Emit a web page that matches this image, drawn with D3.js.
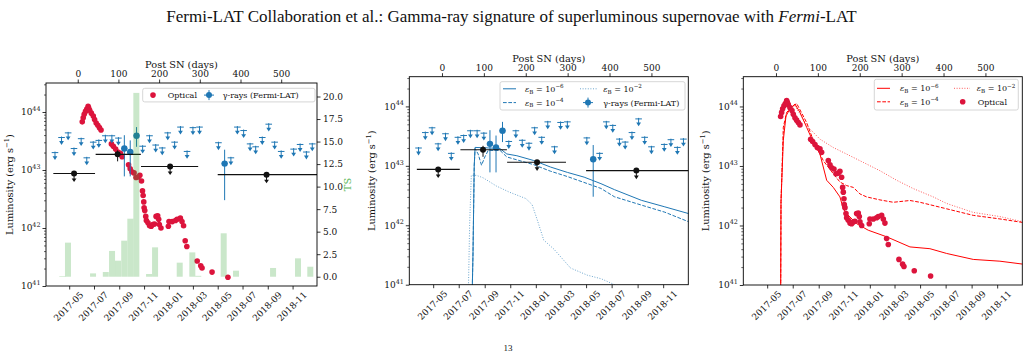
<!DOCTYPE html>
<html><head><meta charset="utf-8">
<script src="https://cdn.jsdelivr.net/npm/d3@7"></script>
<style>
body{margin:0;background:#fff}
svg{display:block}
text{font-family:"DejaVu Serif",serif;fill:#111}
</style>
</head><body>
<svg id="c" width="1030" height="352"></svg>
<script>
// ---------------- DATA ----------------
const title = "Fermi-LAT Collaboration et al.: Gamma-ray signature of superluminous supernovae with ";
const titleItalic = "Fermi";
const titleEnd = "-LAT";
const pageNumber = "13";

const dayZero = Date.UTC(2017, 4, 22);          // Post SN day 0
const dayTicks = [0, 100, 200, 300, 400, 500];
const dateTicks = ["2017-05-01","2017-07-01","2017-09-01","2017-11-01","2018-01-01",
                   "2018-03-01","2018-05-01","2018-07-01","2018-09-01","2018-11-01"];
const tsTicks = [0, 2.5, 5, 7.5, 10, 12.5, 15, 17.5, 20];

// Optical light curve (days, log10 L)
const optDays = [11.1,13.5,15.9,19.1,22.3,25.5,27.0,29.4,33.4,38.2,41.4,45.3,49.3,53.3,57.3,
  82.7,87.5,93.1,98.6,105,109,124.9,128.9,132.9,138.4,143.2,148.8,152.7,156.7,159.1,160.7,
  162.3,163.1,164.7,167.1,168.7,172.6,176.6,180.6,184.6,188.5,192.5,196.5,198.9,200.5,204.5,
  222.7,224.3,232.3,240.2,244.2,252.2,256.2,260.1,264.1,268.1,293.6,302.3,305.5,330.1,369.1];
const optLogL = [43.83,43.90,43.96,44.01,44.05,44.10,44.07,44.03,43.98,43.93,43.87,43.81,43.77,43.73,43.69,
  43.45,43.41,43.36,43.31,43.29,43.23,43.09,43.02,42.97,42.95,42.87,42.88,42.91,42.81,42.64,42.56,
  42.45,42.35,42.30,42.20,42.13,42.09,42.04,42.03,42.06,42.07,42.20,42.21,42.15,42.06,42.00,
  42.03,42.11,42.11,42.13,42.15,42.17,42.11,42.04,41.78,41.68,41.43,41.35,41.31,41.24,41.15];

// Fermi-LAT upper limits (days, log10 L)
const ulDays = [-55.9,-39.8,-23.6,-9.2,8.4,22.2,38.1,51.8,67.9,83.9,100,159.5,176.4,191.6,207.7,
  221.2,238.1,252.5,268.7,283.1,299.3,345.8,376.4,392.3,407.7,423.6,437.3,453.5,469.4,483.9,
  500,530.6,546.5,561.9,576.4];
const ulLogL = [43.30,43.56,43.64,43.37,43.54,43.21,43.48,43.51,43.59,43.59,43.55,43.41,43.59,43.43,43.38,
  43.64,43.48,43.74,43.32,43.73,43.74,43.47,43.21,43.74,43.68,43.45,43.40,43.56,43.79,43.48,
  43.32,43.36,43.44,43.31,43.45];

// Fermi-LAT detections (days, log10 L, lower, upper)
const detDays = [114.5, 129, 144.5, 361];
const detLogL = [43.37, 43.31, 43.59, 43.11];
const detLo   = [42.89, 42.89, 43.40, 42.48];
const detHi   = [43.60, 43.51, 43.74, 43.35];

// Long-time-bin limits (black): centre day, log10 L, bin start, bin end
const binDays  = [-9, 98, 227, 464];
const binLogL  = [42.94, 43.27, 43.06, 42.92];
const binStart = [-60, 44, 155.5, 344];
const binEnd   = [42.5, 155, 296, 620];
const binIsUL  = [true, false, true, true];

// TS histogram
const tsDays = [-38,-24,37.6,69,84.3,99,114.2,129.2,144,175.2,190,250.6,281.6,296.3,358.7,389,480,541.3,571.5];
const tsValues = [0.07,3.78,0.37,0.52,2.86,1.78,4.0,6.44,20.4,0.3,3.26,1.56,2.7,0.1,4.82,0.67,0.97,2.04,1.11];
const tsBinWidth = 14.7;

// Gamma-ray models (days, log10 L)
const gB6Days = [71,74,77,79,114.5,138.6,154.7,178.8,218.8,259,299.3,339.3,379.5,411.6,475.9,532,592];
const gB6LogL = [40.5,41.5,43.0,43.31,43.30,43.29,43.20,43.17,43.09,42.98,42.89,42.81,42.70,42.60,42.42,42.31,42.19];
const gB4Days = [71,74,77,79,86.3,94.4,102.4,110.4,138.6,154.7,218.8,259,299.3,379.5,411.6,475.9,532,592];
const gB4LogL = [40.5,41.5,43.0,43.29,43.20,43.01,43.15,43.26,43.26,43.15,43.02,42.91,42.82,42.62,42.48,42.34,42.22,42.05];
const gB2Days = [62,66,70,82,98,130,160,200,215,227,243,267,307,347,380,412,430];
const gB2LogL = [40.5,42.0,42.84,42.84,42.80,42.66,42.56,42.45,42.35,42.1,41.75,41.6,41.28,41.16,41.1,41.0,40.9];

// Optical models (days, log10 L)
const oB6Days = [11,12,17.5,23.9,33.4,45.3,57.3,73.2,89.1,105,121,136.8,152.7,160.7,168.7,192.6,220.4,264.2,319.8,367.5,407.4,470.9,534.6,590];
const oB6LogL = [40.5,42.4,43.43,43.84,43.96,44.04,43.90,43.65,43.40,43.20,42.76,42.64,42.48,42.28,42.20,42.03,41.92,41.81,41.64,41.61,41.53,41.43,41.40,41.35];
const oB4Days = [11,12,17.5,25.5,37.5,49.4,73.2,89.1,112.9,136.8,152.7,168.7,184.6,200.5,216.5,248.2,280,319.8,343.7,407.4,470.9,534.6,590];
const oB4LogL = [40.5,42.4,43.65,43.90,43.99,44.05,43.73,43.43,43.09,42.87,42.73,42.67,42.64,42.53,42.48,42.43,42.39,42.42,42.39,42.28,42.17,42.11,42.05];
const oB2Days = [11,12,18,25,45.3,77.1,105,136.8,168.7,208.4,248.2,288,327.7,375.4,407.4,470.9,534.6,590];
const oB2LogL = [40.5,42.4,43.6,43.9,44.01,43.65,43.45,43.31,43.20,43.06,42.92,42.76,42.62,42.48,42.37,42.22,42.15,42.06];

// ---------------- STYLE / LAYOUT ----------------
const RED = "#dc143c", BLUE = "#1f77b4", LRED = "#ff0000", GREEN = "#2ca02c";
const XDOM = [-78, 588];
const YDOM = [1e41, Math.pow(10, 44.5)];
const TICKF = 9, LABF = 9.8, LEGF = 8;

const svg = d3.select("#c");
const toDate = d => new Date(dayZero + d * 864e5);
const L10 = v => Math.pow(10, v);

// title
const tt = svg.append("text").attr("x", 511.5).attr("y", 22).attr("text-anchor", "middle")
  .style("font-family", "'Liberation Serif','Times New Roman',serif").style("font-size", "17px");
tt.append("tspan").text(title);
tt.append("tspan").attr("font-style", "italic").text(titleItalic);
tt.append("tspan").text(titleEnd);
svg.append("text").attr("x", 508).attr("y", 350.5).attr("text-anchor", "middle")
  .style("font-family", "'Liberation Serif',serif").style("font-size", "9px").text(pageNumber);

function makePanel(id, box) {
  const xd = d3.scaleLinear().domain(XDOM).range([box.L, box.R]);
  const xt = d3.scaleUtc().domain(XDOM.map(toDate)).range([box.L, box.R]);
  const y = d3.scaleLog().domain(YDOM).range([box.B, box.T]);
  const g = svg.append("g");
  svg.append("clipPath").attr("id", "clip" + id).append("rect")
    .attr("x", box.L).attr("y", box.T).attr("width", box.R - box.L).attr("height", box.B - box.T);
  const plot = g.append("g").attr("clip-path", `url(#clip${id})`);
  return {id, box, xd, xt, y, g, plot};
}

function styleAxis(sel) {
  sel.select(".domain").remove();
  sel.selectAll(".tick line").attr("stroke", "#000").attr("stroke-width", 0.8);
  sel.selectAll("text").style("font-family", "'DejaVu Serif',serif").style("font-size", TICKF + "px").attr("fill", "#111");
}

function drawAxes(p) {
  const {box, xd, xt, y, g} = p;
  const minors = [];
  for (let e = 41; e <= 44; e++) for (let k = 2; k <= 9; k++) { const v = k * Math.pow(10, e); if (v <= YDOM[1]) minors.push(v); }
  g.append("g").attr("transform", `translate(${box.L},0)`)
    .call(d3.axisLeft(y).tickValues(minors).tickSize(2).tickFormat("")).call(styleAxis)
    .selectAll(".tick line").attr("stroke-width", 0.6);
  const majors = [1e41, 1e42, 1e43, 1e44];
  g.append("g").attr("transform", `translate(${box.L},0)`)
    .call(d3.axisLeft(y).tickValues(majors).tickSize(3.5).tickFormat("")).call(styleAxis);
  majors.forEach(v => {
    const t = g.append("text").attr("x", box.L - 5.5).attr("y", y(v) + 3.3).attr("text-anchor", "end")
      .style("font-size", TICKF + "px");
    t.append("tspan").text("10");
    t.append("tspan").attr("dy", -4.3).style("font-size", "6.4px").text(Math.round(Math.log10(v)));
  });
  g.append("g").attr("transform", `translate(0,${box.T})`)
    .call(d3.axisTop(xd).tickValues(dayTicks).tickSize(3.5).tickPadding(2.5)).call(styleAxis);
  g.append("text").attr("x", (box.L + box.R) / 2).attr("y", box.T - 15).attr("text-anchor", "middle")
    .style("font-size", LABF + "px").text("Post SN (days)");
  const bot = g.append("g").attr("transform", `translate(0,${box.B})`)
    .call(d3.axisBottom(xt).tickValues(dateTicks.map(s => new Date(s + "T00:00:00Z")))
      .tickFormat(d3.utcFormat("%Y-%m")).tickSize(3.5)).call(styleAxis);
  bot.selectAll("text").attr("y", 0).attr("dy", null).attr("dominant-baseline", "central")
    .attr("text-anchor", "middle").attr("transform", "translate(-1,20.5) rotate(-45)");
  g.append("rect").attr("x", box.L).attr("y", box.T).attr("width", box.R - box.L).attr("height", box.B - box.T)
    .attr("fill", "none").attr("stroke", "#000").attr("stroke-width", 0.9);
  const yl = g.append("text").attr("transform", `translate(${box.ylx},${(box.T + box.B) / 2}) rotate(-90)`)
    .attr("text-anchor", "middle").style("font-size", LABF + "px");
  yl.append("tspan").text("Luminosity (erg s");
  yl.append("tspan").attr("dy", -4).style("font-size", "6.8px").text("−1");
  yl.append("tspan").attr("dy", 4).text(")");
}

function drawOptical(p) {
  p.plot.append("g").selectAll("circle").data(optDays).join("circle")
    .attr("cx", d => p.xd(d)).attr("cy", (d, i) => p.y(L10(optLogL[i]))).attr("r", 2.8).attr("fill", RED);
}

function ulMarker(sel, color) {
  sel.append("line").attr("x1", -3.3).attr("x2", 3.3).attr("y1", 0).attr("y2", 0);
  sel.append("line").attr("x1", 0).attr("x2", 0).attr("y1", -1).attr("y2", 5);
  sel.append("path").attr("d", "M-2.4,3.6L2.4,3.6L0,7.4Z").attr("stroke", "none").attr("fill", color);
}

function drawGamma(p) {
  const gu = p.plot.append("g").attr("stroke", BLUE).attr("stroke-width", 1);
  gu.selectAll("g").data(ulDays).join("g")
    .attr("transform", (d, i) => `translate(${p.xd(d)},${p.y(L10(ulLogL[i]))})`)
    .each(function () { ulMarker(d3.select(this), BLUE); });
  const gd = p.plot.append("g").selectAll("g").data(detDays).join("g");
  gd.append("line").attr("x1", d => p.xd(d)).attr("x2", d => p.xd(d))
    .attr("y1", (d, i) => p.y(L10(detLo[i]))).attr("y2", (d, i) => p.y(L10(detHi[i])))
    .attr("stroke", BLUE).attr("stroke-width", 1);
  gd.append("line").attr("x1", d => p.xd(d - 7.3)).attr("x2", d => p.xd(d + 7.3))
    .attr("y1", (d, i) => p.y(L10(detLogL[i]))).attr("y2", (d, i) => p.y(L10(detLogL[i])))
    .attr("stroke", BLUE).attr("stroke-width", 1);
  gd.append("circle").attr("cx", d => p.xd(d)).attr("cy", (d, i) => p.y(L10(detLogL[i]))).attr("r", 3.2).attr("fill", BLUE);
}

function drawBins(p) {
  const gb = p.plot.append("g").selectAll("g").data(binDays).join("g");
  gb.append("line").attr("x1", (d, i) => p.xd(binStart[i])).attr("x2", (d, i) => p.xd(binEnd[i]))
    .attr("y1", (d, i) => p.y(L10(binLogL[i]))).attr("y2", (d, i) => p.y(L10(binLogL[i])))
    .attr("stroke", "#111").attr("stroke-width", 1.1);
  gb.each(function (d, i) {
    const s = d3.select(this), cx = p.xd(d), cy = p.y(L10(binLogL[i]));
    if (binIsUL[i]) {
      s.append("line").attr("x1", cx).attr("x2", cx).attr("y1", cy).attr("y2", cy + 6).attr("stroke", "#111").attr("stroke-width", 1);
      s.append("path").attr("d", `M${cx - 2.4},${cy + 5}L${cx + 2.4},${cy + 5}L${cx},${cy + 8.6}Z`).attr("fill", "#111");
    } else {
      s.append("line").attr("x1", cx).attr("x2", cx).attr("y1", cy - 4).attr("y2", cy + 7).attr("stroke", "#111").attr("stroke-width", 1);
    }
    s.append("circle").attr("cx", cx).attr("cy", cy).attr("r", 3).attr("fill", "#111");
  });
}

function drawModel(p, days, logl, color, style) {
  const line = d3.line().x((d, i) => p.xd(d)).y((d, i) => p.y(L10(logl[i])));
  const path = p.plot.append("path").attr("d", line(days)).attr("fill", "none").attr("stroke", color).attr("stroke-width", 1);
  if (style === "dashed") path.attr("stroke-dasharray", "3.7,1.6");
  if (style === "dotted") path.attr("stroke-dasharray", "1,1.6").attr("stroke-opacity", 0.65);
}

function legendBox(g, x, y, w, h) {
  g.append("rect").attr("x", x).attr("y", y).attr("width", w).attr("height", h).attr("rx", 2)
    .attr("fill", "#fff").attr("fill-opacity", 0.85).attr("stroke", "#cccccc").attr("stroke-width", 0.8);
}
function legText(g, x, y, txt) {
  return g.append("text").attr("x", x).attr("y", y + 2.9).style("font-size", LEGF + "px").text(txt);
}
function epsText(g, x, y, ex) {
  const t = g.append("text").attr("x", x).attr("y", y + 2.9).style("font-size", LEGF + "px");
  t.append("tspan").attr("font-style", "italic").text("ε");
  t.append("tspan").attr("dy", 1.8).style("font-size", "5.6px").text("B");
  t.append("tspan").attr("dy", -1.8).text(" = 10");
  t.append("tspan").attr("dy", -3.6).style("font-size", "5.6px").text(ex);
}
function legGamma(g, cx, cy) {
  g.append("line").attr("x1", cx - 5).attr("x2", cx + 5).attr("y1", cy).attr("y2", cy).attr("stroke", BLUE);
  g.append("line").attr("x1", cx).attr("x2", cx).attr("y1", cy - 5).attr("y2", cy + 5).attr("stroke", BLUE);
  g.append("circle").attr("cx", cx).attr("cy", cy).attr("r", 3).attr("fill", BLUE);
}
function legLine(g, x1, x2, y, color, style) {
  const l = g.append("line").attr("x1", x1).attr("x2", x2).attr("y1", y).attr("y2", y).attr("stroke", color).attr("stroke-width", 1);
  if (style === "dashed") l.attr("stroke-dasharray", "3.7,1.6");
  if (style === "dotted") l.attr("stroke-dasharray", "1,1.6").attr("stroke-opacity", 0.65);
}

// ---------------- PANEL 1 ----------------
const p1 = makePanel(1, {L: 46, R: 317, T: 83, B: 286, ylx: 13});
drawOptical(p1);
drawGamma(p1);
drawBins(p1);
const yTS = d3.scaleLinear().domain([-1.03, 21.5]).range([p1.box.B, p1.box.T]);
p1.plot.append("g").selectAll("rect").data(tsDays).join("rect")
  .attr("x", d => p1.xd(d - tsBinWidth / 2)).attr("width", d => p1.xd(d + tsBinWidth / 2) - p1.xd(d - tsBinWidth / 2))
  .attr("y", (d, i) => yTS(tsValues[i])).attr("height", (d, i) => yTS(0) - yTS(tsValues[i]))
  .attr("fill", GREEN).attr("fill-opacity", 0.25);
p1.g.append("g").attr("transform", `translate(${p1.box.R},0)`)
  .call(d3.axisRight(yTS).tickValues(tsTicks).tickFormat(d3.format(".1f")).tickSize(3.5).tickPadding(2.5)).call(styleAxis);
p1.g.append("text").attr("transform", `translate(351,${(p1.box.T + p1.box.B) / 2}) rotate(-90)`).attr("text-anchor", "middle")
  .style("font-size", LABF + "px").style("fill", "#5cb85c").text("TS");
drawAxes(p1);
{
  const lg = p1.g.append("g");
  legendBox(lg, 142.7, 88.3, 172.3, 13.6);
  lg.append("circle").attr("cx", 153).attr("cy", 95.1).attr("r", 2.8).attr("fill", RED);
  legText(lg, 167.7, 95.1, "Optical");
  legGamma(lg, 209, 95.1);
  legText(lg, 222.7, 95.1, "γ-rays (Fermi-LAT)");
}

// ---------------- PANEL 2 ----------------
const p2 = makePanel(2, {L: 409.3, R: 688.3, T: 76.7, B: 284.7, ylx: 375});
drawModel(p2, gB6Days, gB6LogL, BLUE, "solid");
drawModel(p2, gB4Days, gB4LogL, BLUE, "dashed");
drawModel(p2, gB2Days, gB2LogL, BLUE, "dotted");
drawGamma(p2);
drawBins(p2);
drawAxes(p2);
{
  const lg = p2.g.append("g");
  legendBox(lg, 500, 81.7, 185, 28.3);
  legLine(lg, 503, 516, 88.8, BLUE, "solid"); epsText(lg, 525, 88.8, "−6");
  legLine(lg, 503, 516, 102.6, BLUE, "dashed"); epsText(lg, 525, 102.6, "−4");
  legLine(lg, 580, 597, 88.8, BLUE, "dotted"); epsText(lg, 603.3, 88.8, "−2");
  legGamma(lg, 588, 102.6); legText(lg, 603.3, 102.6, "γ-rays (Fermi-LAT)");
}

// ---------------- PANEL 3 ----------------
const p3 = makePanel(3, {L: 743.3, R: 1022.3, T: 76.7, B: 285, ylx: 709});
drawModel(p3, oB6Days, oB6LogL, LRED, "solid");
drawModel(p3, oB4Days, oB4LogL, LRED, "dashed");
drawModel(p3, oB2Days, oB2LogL, LRED, "dotted");
drawOptical(p3);
drawAxes(p3);
{
  const lg = p3.g.append("g");
  legendBox(lg, 874.3, 79.3, 144, 30.7);
  legLine(lg, 877, 890, 88.3, LRED, "solid"); epsText(lg, 900, 88.3, "−6");
  legLine(lg, 877, 890, 101.8, LRED, "dashed"); epsText(lg, 900, 101.8, "−4");
  legLine(lg, 954, 970, 88.3, LRED, "dotted"); epsText(lg, 976.7, 88.3, "−2");
  lg.append("circle").attr("cx", 962.7).attr("cy", 101.8).attr("r", 2.8).attr("fill", RED);
  legText(lg, 977.7, 101.8, "Optical");
}
</script>
</body></html>
